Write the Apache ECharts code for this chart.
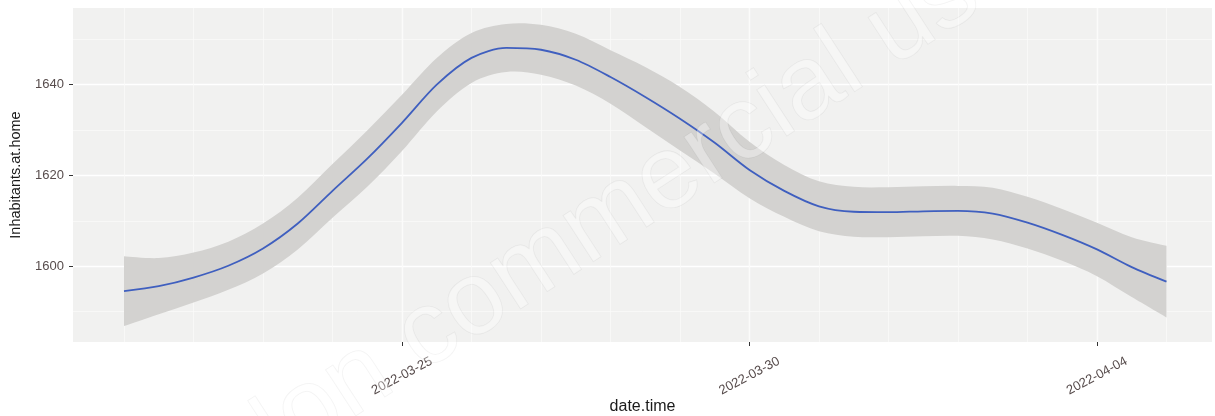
<!DOCTYPE html>
<html>
<head>
<meta charset="utf-8">
<script src="https://cdn.jsdelivr.net/npm/echarts@6/dist/echarts.min.js"></script>
<style>
  html, body { margin: 0; padding: 0; background: #fff; }
  #chart { width: 1215px; height: 416px; }
</style>
</head>
<body>
<div id="chart"></div>
<script>
// smoothed fit (loess) sampled every 12 hours
const times = [
  '2022-03-21 00:00', '2022-03-21 12:00', '2022-03-22 00:00', '2022-03-22 12:00',
  '2022-03-23 00:00', '2022-03-23 12:00', '2022-03-24 00:00', '2022-03-24 12:00',
  '2022-03-25 00:00', '2022-03-25 12:00', '2022-03-26 00:00', '2022-03-26 12:00',
  '2022-03-27 00:00', '2022-03-27 12:00', '2022-03-28 00:00', '2022-03-28 12:00',
  '2022-03-29 00:00', '2022-03-29 12:00', '2022-03-30 00:00', '2022-03-30 12:00',
  '2022-03-31 00:00', '2022-03-31 12:00', '2022-04-01 00:00', '2022-04-01 12:00',
  '2022-04-02 00:00', '2022-04-02 12:00', '2022-04-03 00:00', '2022-04-03 12:00',
  '2022-04-04 00:00', '2022-04-04 12:00', '2022-04-05 00:00'
]
const fit = [
  1594.5, 1595.6, 1597.5, 1600.1, 1603.9, 1609.4, 1616.6, 1623.7,
  1631.6, 1640.0, 1645.9, 1648.1, 1647.7, 1645.5, 1641.7, 1637.3,
  1632.5, 1627.2, 1621.2, 1616.6, 1613.2, 1612.0, 1611.9, 1612.1,
  1612.2, 1611.6, 1609.6, 1606.9, 1603.7, 1599.8, 1596.6
]
const lower = [
  1586.8, 1589.4, 1592.0, 1594.8, 1598.4, 1603.7, 1610.7, 1617.5,
  1625.4, 1634.1, 1640.4, 1642.8, 1642.2, 1639.8, 1635.8, 1630.7,
  1625.5, 1620.4, 1615.0, 1610.9, 1607.7, 1606.5, 1606.4, 1606.6,
  1606.7, 1605.9, 1603.9, 1601.2, 1597.8, 1593.2, 1588.7
]
const upper = [
  1602.2, 1601.8, 1603.0, 1605.4, 1609.4, 1615.1, 1622.5, 1629.9,
  1637.8, 1645.9, 1651.4, 1653.4, 1653.2, 1651.2, 1647.6, 1643.9,
  1639.5, 1634.0, 1627.4, 1622.3, 1618.7, 1617.5, 1617.4, 1617.6,
  1617.7, 1617.3, 1615.3, 1612.6, 1609.6, 1606.4, 1604.5
]

// axis breaks
const xTickDates = ['2022-03-25', '2022-03-30', '2022-04-04']
const yTicks = [1600, 1620, 1640]
const yMinorTicks = [1590, 1610, 1630, 1650]

const DAY = 24 * 3600 * 1000
const toMs = s => Date.parse(s.replace(' ', 'T') + (s.length > 10 ? ':00Z' : 'T00:00:00Z'))
const pad = n => (n < 10 ? '0' : '') + n
const fmtDate = v => {
  const d = new Date(v)
  return d.getUTCFullYear() + '-' + pad(d.getUTCMonth() + 1) + '-' + pad(d.getUTCDate())
}

const xTicks = xTickDates.map(toMs)
const xMin = xTicks[0] - 4.734 * DAY
const xMax = xTicks[0] + 11.655 * DAY
// minor (daily) grid lines
const xMinor = []
for (let t = toMs('2022-03-20'); t <= xMax; t += DAY) {
  if (t >= xMin) xMinor.push(t)
}

const yMin = 1583.3
const yMax = 1656.9

const tickColor = '#333333'
const labelColor = '#574c4c'
const font = "'Liberation Sans', Arial, sans-serif"

// smooth path through screen points (catmull-rom as cubic bezier)
const curveTo = pts => {
  let s = ''
  const n = pts.length
  for (let i = 0; i < n - 1; i++) {
    const p0 = pts[Math.max(i - 1, 0)]
    const p1 = pts[i]
    const p2 = pts[i + 1]
    const p3 = pts[Math.min(i + 2, n - 1)]
    const c1 = [p1[0] + (p2[0] - p0[0]) / 6, p1[1] + (p2[1] - p0[1]) / 6]
    const c2 = [p2[0] - (p3[0] - p1[0]) / 6, p2[1] - (p3[1] - p1[1]) / 6]
    s += ' C' + c1[0] + ',' + c1[1] + ' ' + c2[0] + ',' + c2[1] + ' ' + p2[0] + ',' + p2[1]
  }
  return s
}

const renderBand = (params, api) => {
  if (params.dataIndex !== 0) return null
  const up = times.map((t, i) => api.coord([toMs(t), upper[i]]))
  const lo = times.map((t, i) => api.coord([toMs(t), lower[i]])).reverse()
  const d = 'M' + up[0][0] + ',' + up[0][1] + curveTo(up) +
    ' L' + lo[0][0] + ',' + lo[0][1] + curveTo(lo) + ' Z'
  return {
    type: 'path',
    shape: { pathData: d },
    style: { fill: '#d3d2d0', stroke: null }
  }
}

const chart = echarts.init(document.getElementById('chart'))

const option = {
  animation: false,
  backgroundColor: '#ffffff',
  grid: {
    left: 73, right: 3, top: 8, bottom: 74,
    show: true,
    backgroundColor: '#f1f1f0',
    borderWidth: 0,
    outerBoundsMode: 'none'
  },
  xAxis: [
    {
      type: 'value',
      min: xMin,
      max: xMax,
      name: 'date.time',
      nameLocation: 'middle',
      nameGap: 57,
      nameMoveOverlap: false,
      nameTextStyle: { color: '#1a1a1a', fontSize: 16, fontFamily: font },
      axisLine: { show: false },
      axisTick: { show: true, length: 4, customValues: xTicks, lineStyle: { color: tickColor, width: 1 } },
      axisLabel: {
        customValues: xTicks,
        formatter: v => fmtDate(v),
        rotate: 28,
        align: 'center',
        verticalAlign: 'middle',
        margin: 34,
        color: labelColor,
        fontSize: 13,
        fontFamily: font
      },
      splitLine: { show: true, lineStyle: { color: '#ffffff', width: 1.4 } }
    },
    {
      type: 'value',
      min: xMin,
      max: xMax,
      position: 'bottom',
      axisLine: { show: false },
      axisTick: { show: false, customValues: xMinor },
      axisLabel: { show: false, customValues: xMinor },
      splitLine: { show: true, lineStyle: { color: '#fafaf9', width: 0.8 } }
    }
  ],
  yAxis: [
    {
      type: 'value',
      min: yMin,
      max: yMax,
      name: 'Inhabitants.at.home',
      nameLocation: 'middle',
      nameGap: 50,
      nameTextStyle: { color: '#1a1a1a', fontSize: 14.5, fontFamily: font },
      axisLine: { show: false },
      axisTick: { show: true, length: 4, customValues: yTicks, lineStyle: { color: tickColor, width: 1 } },
      axisLabel: {
        customValues: yTicks,
        formatter: v => String(v),
        margin: 9,
        color: labelColor,
        fontSize: 13,
        fontFamily: font
      },
      splitLine: { show: true, lineStyle: { color: '#ffffff', width: 1.4 } }
    },
    {
      type: 'value',
      min: yMin,
      max: yMax,
      position: 'left',
      axisLine: { show: false },
      axisTick: { show: false, customValues: yMinorTicks },
      axisLabel: { show: false, customValues: yMinorTicks },
      splitLine: { show: true, lineStyle: { color: '#fafaf9', width: 0.8 } }
    }
  ],
  series: [
    {
      type: 'custom',
      name: 'band',
      renderItem: renderBand,
      encode: { x: 0, y: [1, 2] },
      data: times.map((t, i) => [toMs(t), lower[i], upper[i]]),
      clip: true,
      silent: true,
      z: 2
    },
    {
      type: 'line',
      name: 'fit',
      smooth: 0.3,
      symbol: 'none',
      lineStyle: { color: '#3f5fbf', width: 1.8 },
      data: times.map((t, i) => [toMs(t), fit[i]]),
      z: 5
    }
  ],
  graphic: [
    {
      type: 'text',
      silent: true,
      x: 620,
      y: 210,
      rotation: 33 * Math.PI / 180,
      z: 100,
      style: {
        text: 'Non commercial use',
        fontSize: 104,
        fontFamily: font,
        align: 'center',
        verticalAlign: 'middle',
        fill: 'rgba(255,255,255,0.35)',
        stroke: 'rgba(0,0,0,0.05)',
        lineWidth: 1
      }
    }
  ]
}

chart.setOption(option)
</script>
</body>
</html>
